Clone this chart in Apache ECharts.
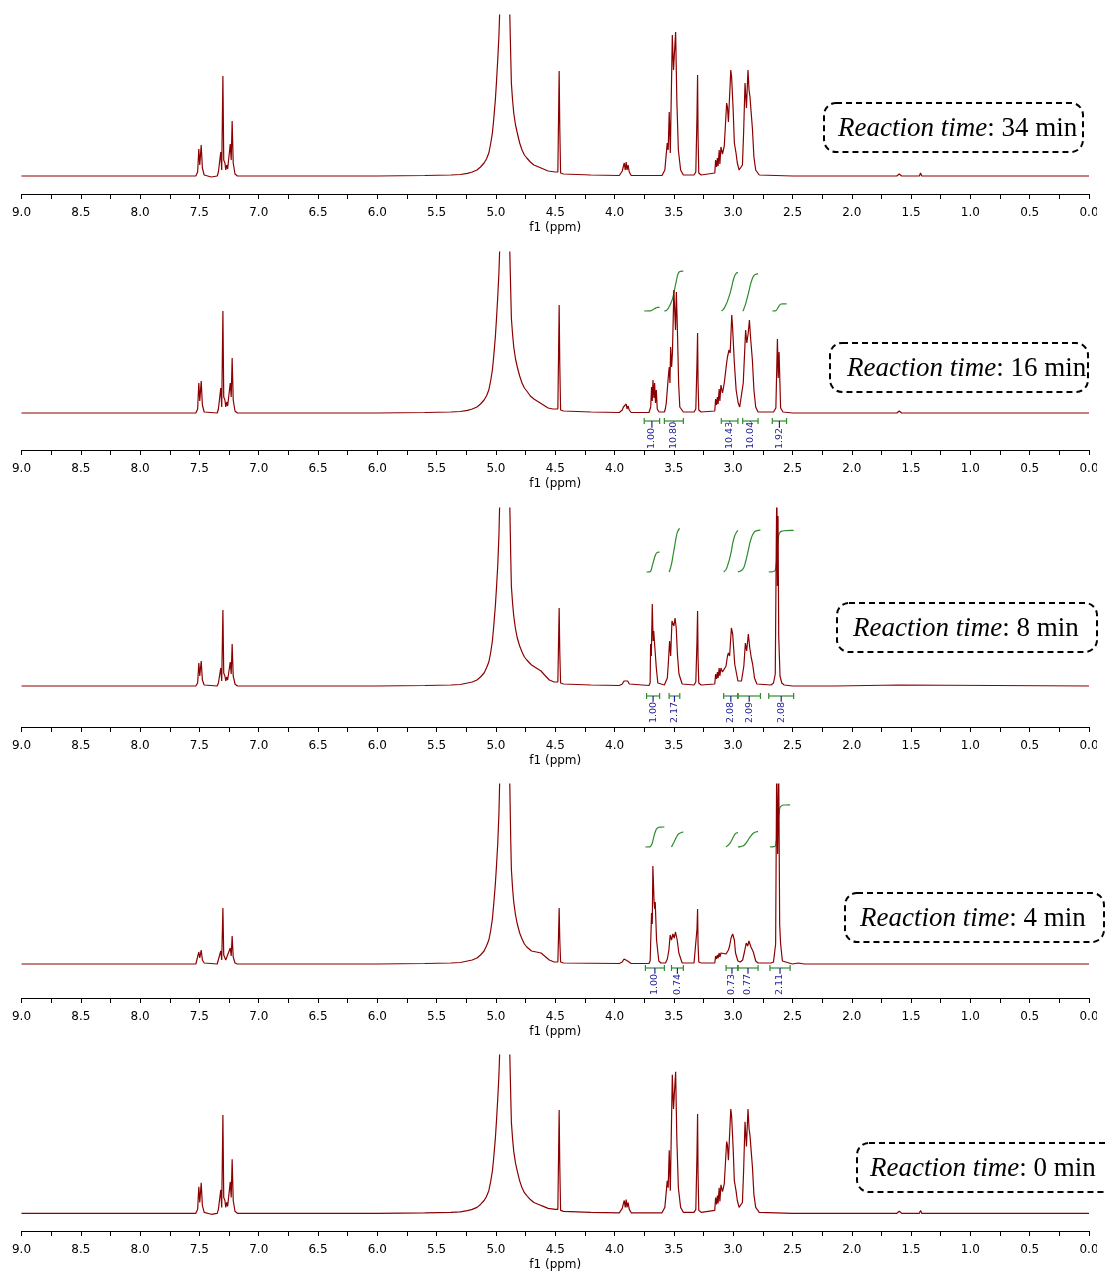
<!DOCTYPE html>
<html><head><meta charset="utf-8">
<script src="https://cdn.jsdelivr.net/npm/echarts@6/dist/echarts.min.js"></script>
<style>html,body{margin:0;padding:0;background:#fff}#c{width:1105px;height:1272px}</style>
</head><body><div id="c"></div>
<script>
// ---------- DATA (ppm, intensity) ----------
const spec34 = [[9.0,0],[7.53,0],[7.515,4],[7.505,27],[7.497,11],[7.485,31],[7.475,8],[7.46,1],[7.40,-1],[7.35,0],[7.34,4],[7.32,24],[7.312,6],[7.302,100],[7.295,16],[7.285,13],[7.278,6],[7.27,11],[7.262,7],[7.24,32],[7.232,16],[7.224,55],[7.215,13],[7.20,2],[7.18,0],[6.0,0],[5.6,0.5],[5.38,1],[5.3,1.5],[5.24,2.7],[5.2,4],[5.16,6],[5.13,9],[5.10,13],[5.08,17],[5.06,23],[5.045,32],[5.03,43],[5.02,55],[5.005,76],[4.995,95],[4.985,116],[4.975,140],[4.968,165],[4.93,2000],[4.884,165],[4.875,118],[4.87,93],[4.86,76],[4.85,63],[4.835,51],[4.82,43],[4.80,33],[4.78,26],[4.76,21],[4.74,18],[4.71,14],[4.68,11],[4.64,9],[4.60,7],[4.56,5],[4.50,4],[4.478,4],[4.472,60],[4.467,105],[4.462,50],[4.455,3],[4.43,2],[4.2,1],[3.96,0.5],[3.935,5],[3.925,10],[3.918,13],[3.91,6],[3.902,14],[3.895,6],[3.886,11],[3.876,4],[3.86,0.5],[3.6,0.5],[3.585,2],[3.576,6],[3.565,8],[3.556,33],[3.548,26],[3.539,64],[3.53,23],[3.513,141],[3.503,106],[3.497,119],[3.485,144],[3.475,76],[3.462,26],[3.443,6],[3.42,1],[3.33,1],[3.315,4],[3.305,60],[3.30,101],[3.296,40],[3.29,3],[3.27,1],[3.155,3],[3.148,16],[3.14,9],[3.133,18],[3.127,10],[3.118,26],[3.112,12],[3.103,29],[3.09,22],[3.075,30],[3.055,73],[3.048,69],[3.04,54],[3.02,106],[3.013,99],[3.00,66],[2.99,33],[2.976,23],[2.965,13],[2.95,6],[2.935,6],[2.922,11],[2.912,43],[2.90,93],[2.888,68],[2.875,106],[2.866,86],[2.858,79],[2.848,63],[2.838,48],[2.825,19],[2.81,6],[2.78,1],[2.5,0],[1.62,0],[1.6,2],[1.58,0],[1.43,0],[1.42,3],[1.41,0],[1.29,0],[1.28,2],[1.27,0],[1.19,0],[1.18,2],[1.17,0],[0.0,0]];

const spec16 = [[9.0,0],[7.53,0],[7.515,4],[7.505,30],[7.497,12],[7.485,32],[7.475,8],[7.46,1],[7.35,0],[7.34,4],[7.32,25],[7.312,6],[7.302,102],[7.295,16],[7.285,13],[7.278,6],[7.27,11],[7.262,7],[7.24,30],[7.232,16],[7.224,55],[7.215,13],[7.20,2],[7.18,0],[6.0,0],[5.6,0.5],[5.38,1],[5.3,1.5],[5.24,2.7],[5.2,4],[5.16,6],[5.13,9],[5.10,13],[5.08,17],[5.06,23],[5.045,32],[5.03,43],[5.02,55],[5.005,76],[4.995,95],[4.985,116],[4.975,140],[4.968,165],[4.93,2000],[4.884,165],[4.875,120],[4.87,95],[4.86,79],[4.85,66],[4.835,54],[4.82,46],[4.80,37],[4.78,30],[4.76,25],[4.74,22],[4.71,17],[4.68,14],[4.64,11],[4.60,8],[4.56,5],[4.52,4],[4.478,4],[4.472,60],[4.467,108],[4.462,50],[4.455,3],[4.43,2],[4.2,1],[3.96,0.5],[3.935,3],[3.925,6],[3.918,8],[3.91,4],[3.902,9],[3.895,4],[3.886,7],[3.876,3],[3.86,0.5],[3.71,0.5],[3.695,6],[3.688,26],[3.682,12],[3.676,33],[3.668,15],[3.662,30],[3.655,10],[3.648,23],[3.64,4],[3.625,1],[3.58,1],[3.572,4],[3.564,10],[3.547,36],[3.539,46],[3.533,30],[3.527,66],[3.519,46],[3.512,60],[3.50,123],[3.486,83],[3.479,121],[3.47,83],[3.46,30],[3.45,6],[3.42,1],[3.33,1],[3.315,4],[3.305,50],[3.30,80],[3.296,30],[3.29,3],[3.27,1],[3.155,2],[3.148,14],[3.14,8],[3.133,16],[3.127,9],[3.118,24],[3.112,12],[3.103,28],[3.09,20],[3.075,30],[3.055,50],[3.048,56],[3.035,63],[3.025,60],[3.012,98],[3.005,86],[2.99,50],[2.975,23],[2.958,10],[2.945,6],[2.93,8],[2.915,30],[2.895,83],[2.885,70],[2.873,80],[2.863,93],[2.853,75],[2.838,53],[2.825,23],[2.81,6],[2.79,1],[2.66,1],[2.64,5],[2.627,74],[2.62,35],[2.613,61],[2.60,5],[2.58,1],[2.5,0],[2.16,0],[2.15,2],[2.14,0],[1.62,0],[1.6,2],[1.58,0],[1.43,0],[1.42,2],[1.41,0],[0.0,0]];

const spec8 = [[9.0,0],[7.53,0],[7.515,3],[7.505,23],[7.497,10],[7.485,25],[7.475,6],[7.46,1],[7.35,0],[7.34,3],[7.32,18],[7.312,5],[7.302,76],[7.295,13],[7.285,10],[7.278,5],[7.27,9],[7.262,6],[7.24,24],[7.232,12],[7.224,42],[7.215,10],[7.20,2],[7.18,0],[6.0,0],[5.6,0.5],[5.38,1],[5.3,1.5],[5.24,3],[5.2,4],[5.16,6],[5.13,9],[5.10,13],[5.08,18],[5.06,24],[5.045,33],[5.03,45],[5.02,58],[5.005,80],[4.995,99],[4.985,120],[4.975,150],[4.968,185],[4.93,2000],[4.884,185],[4.875,128],[4.87,100],[4.86,83],[4.85,70],[4.835,57],[4.82,48],[4.80,40],[4.78,34],[4.76,29],[4.74,26],[4.70,21],[4.66,18],[4.62,15],[4.59,11],[4.55,6],[4.51,4],[4.478,4],[4.472,45],[4.467,78],[4.462,35],[4.455,3],[4.43,2],[4.2,1],[3.96,0.5],[3.935,2],[3.92,5],[3.905,4],[3.89,5],[3.875,2],[3.86,0.5],[3.71,0.5],[3.70,3],[3.696,42],[3.69,30],[3.682,82],[3.675,45],[3.67,55],[3.66,53],[3.648,18],[3.635,3],[3.62,1],[3.58,1],[3.57,3],[3.555,8],[3.547,22],[3.536,45],[3.527,30],[3.516,65],[3.505,67],[3.50,60],[3.49,68],[3.48,58],[3.47,32],[3.457,12],[3.43,2],[3.33,1],[3.315,4],[3.305,45],[3.30,75],[3.296,28],[3.29,3],[3.27,1],[3.155,2],[3.148,12],[3.14,7],[3.133,14],[3.127,8],[3.118,18],[3.112,10],[3.103,18],[3.09,14],[3.06,20],[3.048,30],[3.04,33],[3.03,30],[3.015,58],[3.004,52],[2.987,22],[2.975,20],[2.96,5],[2.945,3],[2.93,5],[2.91,20],[2.897,43],[2.886,35],[2.872,52],[2.86,38],[2.847,28],[2.836,22],[2.82,8],[2.80,2],[2.68,1],[2.66,3],[2.645,12],[2.636,150],[2.632,200],[2.627,100],[2.622,170],[2.616,50],[2.605,10],[2.59,3],[2.57,1],[2.5,0],[2.16,0],[2.15,2],[2.14,0],[1.6,1],[0.0,0]];

const spec4 = [[9.0,0],[7.53,0],[7.515,2],[7.505,12],[7.497,6],[7.485,14],[7.475,4],[7.46,1],[7.35,0],[7.34,2],[7.32,13],[7.312,4],[7.302,56],[7.295,9],[7.285,7],[7.278,4],[7.27,6],[7.262,4],[7.24,16],[7.232,8],[7.224,28],[7.215,7],[7.20,1],[7.18,0],[6.0,0],[5.6,0.5],[5.38,1],[5.3,1.5],[5.24,3],[5.2,4],[5.16,6],[5.13,9],[5.10,13],[5.08,18],[5.06,24],[5.045,33],[5.03,45],[5.02,58],[5.005,80],[4.995,99],[4.985,120],[4.975,150],[4.968,185],[4.93,2000],[4.884,185],[4.875,122],[4.87,95],[4.86,76],[4.85,62],[4.835,49],[4.82,40],[4.80,31],[4.78,25],[4.76,20],[4.74,17],[4.70,13],[4.66,12],[4.62,11],[4.59,8],[4.55,4],[4.51,2],[4.478,2],[4.472,30],[4.467,56],[4.462,25],[4.455,2],[4.43,1],[3.96,0.5],[3.935,2],[3.92,5],[3.905,4],[3.89,3],[3.875,1],[3.86,0.5],[3.71,0.5],[3.70,3],[3.688,51],[3.682,40],[3.677,98],[3.666,60],[3.661,55],[3.657,62],[3.646,24],[3.627,3],[3.61,1],[3.57,1],[3.555,5],[3.542,14],[3.531,29],[3.52,24],[3.508,30],[3.497,26],[3.486,32],[3.472,24],[3.458,11],[3.43,1],[3.33,1],[3.315,3],[3.305,35],[3.30,55],[3.296,20],[3.29,2],[3.27,1],[3.155,1],[3.148,8],[3.14,5],[3.133,9],[3.127,6],[3.118,11],[3.112,7],[3.103,11],[3.09,9],[3.06,10],[3.04,14],[3.03,18],[3.018,26],[3.004,30],[2.99,24],[2.98,11],[2.96,3],[2.94,2],[2.92,4],[2.905,12],[2.89,21],[2.878,18],[2.867,23],[2.85,17],[2.83,12],[2.81,3],[2.79,1],[2.68,1],[2.66,2],[2.65,4],[2.642,20],[2.633,200],[2.625,110],[2.616,195],[2.608,40],[2.60,20],[2.585,3],[2.57,1],[2.5,0],[2.45,1],[2.40,0],[0.0,0]];

const spec0 = [[9.0,0],[7.53,0],[7.515,4],[7.505,27],[7.497,11],[7.485,31],[7.475,8],[7.46,1],[7.40,-1],[7.35,0],[7.34,4],[7.32,24],[7.312,6],[7.302,100],[7.295,16],[7.285,13],[7.278,6],[7.27,11],[7.262,7],[7.24,32],[7.232,16],[7.224,55],[7.215,13],[7.20,2],[7.18,0],[6.0,0],[5.6,0.5],[5.38,1],[5.3,1.5],[5.24,2.7],[5.2,4],[5.16,6],[5.13,9],[5.10,13],[5.08,17],[5.06,23],[5.045,32],[5.03,43],[5.02,55],[5.005,76],[4.995,95],[4.985,116],[4.975,140],[4.968,165],[4.93,2000],[4.884,165],[4.875,118],[4.87,93],[4.86,76],[4.85,63],[4.835,51],[4.82,43],[4.80,33],[4.78,26],[4.76,21],[4.74,18],[4.71,14],[4.68,11],[4.64,9],[4.60,7],[4.56,5],[4.50,4],[4.478,4],[4.472,60],[4.467,105],[4.462,50],[4.455,3],[4.43,2],[4.2,1],[3.96,0.5],[3.935,5],[3.925,10],[3.918,13],[3.91,6],[3.902,14],[3.895,6],[3.886,11],[3.876,4],[3.86,0.5],[3.6,0.5],[3.585,2],[3.576,6],[3.565,8],[3.556,33],[3.548,26],[3.539,64],[3.53,23],[3.513,141],[3.503,106],[3.497,119],[3.485,144],[3.475,76],[3.462,26],[3.443,6],[3.42,1],[3.33,1],[3.315,4],[3.305,60],[3.30,101],[3.296,40],[3.29,3],[3.27,1],[3.155,3],[3.148,16],[3.14,9],[3.133,18],[3.127,10],[3.118,26],[3.112,12],[3.103,29],[3.09,22],[3.075,30],[3.055,73],[3.048,69],[3.04,54],[3.02,106],[3.013,99],[3.00,66],[2.99,33],[2.976,23],[2.965,13],[2.95,6],[2.935,6],[2.922,11],[2.912,43],[2.90,93],[2.888,68],[2.875,106],[2.866,86],[2.858,79],[2.848,63],[2.838,48],[2.825,19],[2.81,6],[2.78,1],[2.5,0],[1.62,0],[1.6,2],[1.58,0],[1.43,0],[1.42,3],[1.41,0],[1.29,0],[1.28,2],[1.27,0],[1.19,0],[1.18,2],[1.17,0],[0.0,0]];

// integrals: [from ppm, to ppm, value]
const int16 = [[3.75,3.62,1.00],[3.58,3.42,10.80],[3.10,2.96,10.43],[2.92,2.79,10.04],[2.67,2.55,1.92]];
const int8  = [[3.73,3.62,1.00],[3.54,3.45,2.17],[3.08,2.96,2.08],[2.96,2.77,2.09],[2.70,2.49,2.08]];
const int4  = [[3.74,3.58,1.00],[3.52,3.42,0.74],[3.06,2.96,0.73],[2.96,2.79,0.77],[2.69,2.52,2.11]];

const times = ['34 min','16 min','8 min','4 min','0 min'];
const axisMin = 0, axisMax = 9, axisStep = 0.5;
const axisTitle = 'f1 (ppm)';

// ---------- LAYOUT ----------
const spectra = [spec34, spec16, spec8, spec4, spec0];
const integrals = [null, int16, int8, int4, null];
const L = [
  {top:15,  axis:194,  base:176,  box:[824,103,259,49],  tx:838},
  {top:252, axis:450,  base:413,  box:[830,343,258,49],  tx:847, barOff:8,  lblBottom:449, cBase:102, cScale:3.7},
  {top:508, axis:727,  base:686,  box:[837,603,260,49],  tx:853, barOff:10, lblBottom:723, cBase:114, cScale:20},
  {top:784, axis:998,  base:964,  box:[845,893,259,49],  tx:860, barOff:4,  lblBottom:995, cBase:117, cScale:20},
  {top:1055,axis:1234, base:1216, box:[857,1143,270,49], tx:870}
];
const RED = '#8b0000', GREEN = '#2e8b2e', BLUE = '#1f1f99';
const LEFT = 21.5, RIGHT = 1105 - 1089;
const LBL_FONT = '9.5px "DejaVu Sans"';
const measureCtx = document.createElement('canvas').getContext('2d');
function textW(t) { measureCtx.font = LBL_FONT; return measureCtx.measureText(t).width; }

const grids = [], xAxes = [], yAxes = [], series = [], graphics = [];
L.forEach((p, i) => {
  grids.push({left: LEFT, right: RIGHT, top: p.top, height: p.axis - p.top, containLabel: false});
  xAxes.push({
    gridIndex: i, type: 'value', min: axisMin, max: axisMax, interval: axisStep, inverse: true,
    axisLine: {show: true, onZero: false, lineStyle: {color: '#000', width: 1}},
    axisTick: {show: true, length: 5, lineStyle: {color: '#000', width: 1}},
    minorTick: {show: true, splitNumber: 2, length: 5, lineStyle: {color: '#000', width: 1}},
    splitLine: {show: false}, minorSplitLine: {show: false},
    axisLabel: {margin: 13, fontFamily: 'DejaVu Sans', fontSize: 12, color: '#000',
      showMinLabel: true, showMaxLabel: true, formatter: v => v.toFixed(1)},
    name: axisTitle, nameLocation: 'middle', nameGap: 28,
    nameTextStyle: {fontFamily: 'DejaVu Sans', fontSize: 12, color: '#000'}
  });
  yAxes.push({gridIndex: i, type: 'value', show: false, min: -(p.axis - p.base), max: p.base - p.top});
  const spec = spectra[i];
  series.push({
    type: 'line', xAxisIndex: i, yAxisIndex: i, data: spec, showSymbol: false, symbol: 'none',
    lineStyle: {color: RED, width: 1.2}, clip: true, animation: false, silent: true, sampling: null
  });
  if (integrals[i]) {
    const cfg = p;
    series.push({
      type: 'custom', xAxisIndex: i, yAxisIndex: i, data: integrals[i], clip: false, animation: false, silent: true,
      renderItem: function (params, api) {
        const a = api.value(0), b = api.value(1), v = api.value(2);
        const x0 = api.coord([a, 0])[0], x1 = api.coord([b, 0])[0];
        const base = api.coord([a, 0])[1];
        const xm = (x0 + x1) / 2;
        const yb = base + cfg.barOff;
        const yc = base - cfg.cBase;
        const rise = v * cfg.cScale;
        // running integral of the drawn spectrum inside [b, a]
        const pts = spec.filter(d => d[0] <= a && d[0] >= b);
        const xs = [a].concat(pts.map(d => d[0]), [b]);
        const ys = [0].concat(pts.map(d => Math.max(0, d[1])), [0]);
        let cum = [0];
        for (let k = 1; k < xs.length; k++) cum.push(cum[k - 1] + (xs[k - 1] - xs[k]) * (ys[k - 1] + ys[k]) / 2);
        const tot = cum[cum.length - 1] || 1;
        const poly = xs.map((x, k) => [api.coord([x, 0])[0], yc - rise * cum[k] / tot]);
        const label = v.toFixed(2);
        const tw = textW(label);
        const ls = {stroke: GREEN, lineWidth: 1.2, fill: null};
        return {type: 'group', children: [
          {type: 'line', shape: {x1: x0, y1: yb, x2: x1, y2: yb}, style: ls},
          {type: 'line', shape: {x1: x0, y1: yb - 3, x2: x0, y2: yb + 3}, style: ls},
          {type: 'line', shape: {x1: x1, y1: yb - 3, x2: x1, y2: yb + 3}, style: ls},
          {type: 'line', shape: {x1: xm, y1: yb, x2: xm, y2: cfg.lblBottom - tw}, style: {stroke: BLUE, lineWidth: 1.2}},
          {type: 'text', x: xm, y: cfg.lblBottom, rotation: Math.PI / 2,
            style: {text: label, fill: BLUE, font: LBL_FONT, align: 'left', verticalAlign: 'middle'}},
          {type: 'polyline', shape: {points: poly, smooth: 0.3}, style: {stroke: GREEN, lineWidth: 1.2, fill: null}}
        ]};
      }
    });
  }
  const [bx, by, bw, bh] = p.box;
  graphics.push({type: 'rect', shape: {x: 1097, y: p.axis + 8, width: 8, height: 16}, z: 5,
    style: {fill: '#fff', stroke: null}});
  graphics.push({type: 'rect', shape: {x: bx, y: by, width: bw, height: bh, r: 12}, z: 10,
    style: {fill: 'rgba(255,255,255,0)', stroke: '#000', lineWidth: 2, lineDash: [6, 4]}});
  graphics.push({type: 'text', x: p.tx, y: by + bh / 2 + 1, z: 11,
    style: {text: '{i|Reaction time}: ' + times[i],
      rich: {i: {fontStyle: 'italic', fontFamily: 'Liberation Serif', fontSize: 27, fill: '#000', color: '#000'}},
      fontFamily: 'Liberation Serif', fontSize: 27, fill: '#000',
      align: 'left', verticalAlign: 'middle', textAlign: 'left', textVerticalAlign: 'middle'}});
});

const chart = echarts.init(document.getElementById('c'), null, {renderer: 'canvas'});
chart.setOption({animation: false, grid: grids, xAxis: xAxes, yAxis: yAxes, series: series, graphic: graphics});
</script></body></html>
